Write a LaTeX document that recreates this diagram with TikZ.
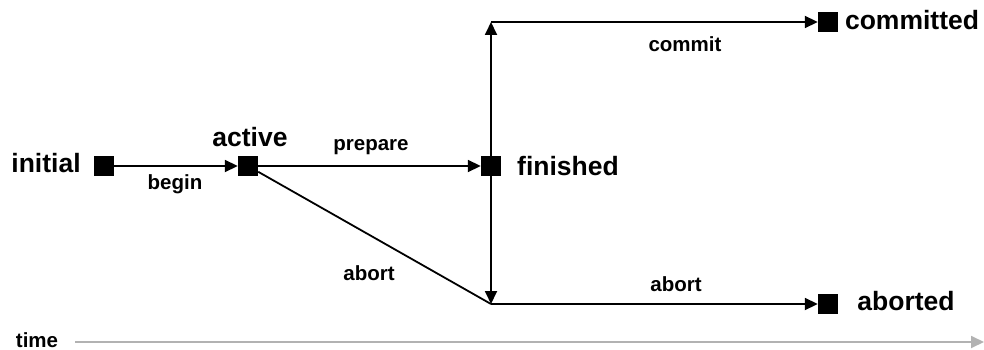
\documentclass[tikz,border=0pt]{standalone}
\usepackage{fontspec}
\setmainfont{Liberation Sans}
\usetikzlibrary{arrows.meta}
\begin{document}
\begin{tikzpicture}[x=1pt,y=-1pt,
  state/.style={draw=none,fill=black,minimum size=20pt,inner sep=0pt},
  big/.style={font=\fontsize{26.5}{26.5}\selectfont\bfseries,inner sep=0pt},
  small/.style={font=\fontsize{20.5}{20.5}\selectfont\bfseries,inner sep=0pt},
  flow/.style={line width=1.8pt,-{Triangle[length=13pt,width=12pt]}},
  plain/.style={line width=1.8pt},
  timeline/.style={line width=1.8pt,draw={rgb,255:red,178;green,178;blue,178},-{Triangle[length=13pt,width=12pt]}}]
\useasboundingbox (0,0) rectangle (984,350);
% states
\node[state] (I) at (104,166) {};
\node[state] (A) at (248,166) {};
\node[state] (F) at (491,166) {};
\node[state] (C) at (828,22) {};
\node[state] (B) at (828,304) {};
\coordinate (top) at (491,22);
\coordinate (bot) at (491,304);
% connectors
\draw[flow] (I) -- (A);
\draw[flow] (A) -- (F);
\draw[plain] (A) -- (bot);
\draw[flow] (F) -- (top);
\draw[flow] (F) -- (bot);
\draw[flow] (top) -- (C);
\draw[flow] (bot) -- (B);
% labels
\node[big] (li) at (46,163) {initial};
\node[big] (la) at (250,137) {active};
\node[big] (lf) at (568,166) {finished};
\node[big] (lc) at (912,20) {committed};
\node[big] (lb) at (906,301) {aborted};
\node[small] (tb) at (175,184) {begin};
\node[small] (tp) at (371,147) {prepare};
\node[small] (ta) at (369,273) {abort};
\node[small] (tc) at (685,44) {commit};
\node[small] (tab) at (676,284) {abort};
% time axis
\node[small] (time) at (37,340) {time};
\coordinate (tstart) at (75,342);
\coordinate (tend) at (984,342);
\draw[timeline] (tstart) -- (tend);
\end{tikzpicture}
\end{document}
